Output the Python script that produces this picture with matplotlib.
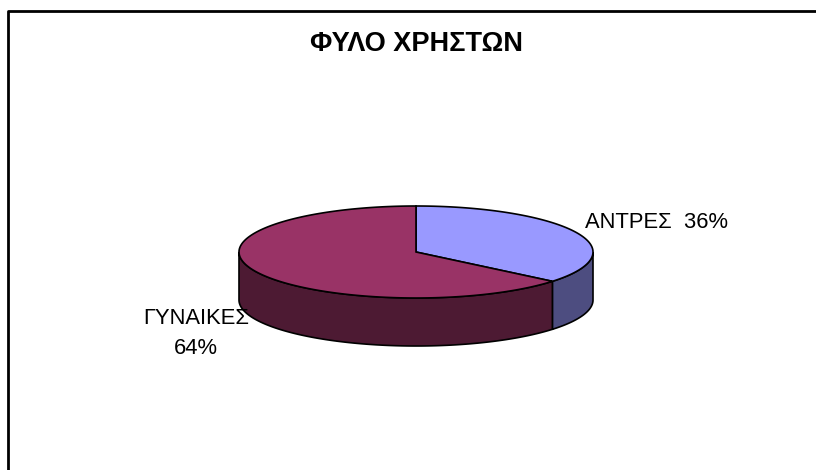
import numpy as np
import matplotlib
matplotlib.use("Agg")
import matplotlib.pyplot as plt
from matplotlib.patches import Polygon

plt.rcParams["font.family"] = ["Liberation Sans", "DejaVu Sans"]

TITLE = "ΦΥΛΟ ΧΡΗΣΤΩΝ"
LABELS = ["ΑΝΤΡΕΣ", "ΓΥΝΑΙΚΕΣ"]
VALUES = [36, 64]
TOP_COLORS = ["#9999ff", "#993366"]
SIDE_COLORS = ["#4d4d80", "#4d1a33"]

# pie geometry in pixel units
CX, CY = 416, 252
A, B = 177, 46
DEPTH = 48


def ellipse_pts(t0, t1, n=200):
    t = np.linspace(t0, t1, n)
    return CX + A * np.cos(t), CY - B * np.sin(t)


def main():
    fig = plt.figure(figsize=(8.16, 4.70), dpi=100)
    ax = fig.add_axes([0, 0, 1, 1])
    ax.set_xlim(0, 816)
    ax.set_ylim(470, 0)
    ax.axis("off")

    # chart frame, cut off on the right and bottom
    ax.plot([8, 8, 830], [480, 10.5, 10.5], color="black", lw=2, zorder=1)

    total = sum(VALUES)
    start = np.pi / 2
    slices = []
    for value in VALUES:
        end = start - 2 * np.pi * value / total
        slices.append((end, start))
        start = end

    # side walls on the front half
    for (t0, t1), color in zip(slices, SIDE_COLORS):
        lo, hi = t0 % (2 * np.pi), t0 % (2 * np.pi) + (t1 - t0)
        a0 = max(lo, np.pi)
        a1 = min(hi, 2 * np.pi)
        if a1 <= a0:
            continue
        x, y = ellipse_pts(a0, a1)
        xs = np.concatenate([x, x[::-1]])
        ys = np.concatenate([y, y[::-1] + DEPTH])
        ax.add_patch(Polygon(np.column_stack([xs, ys]), closed=True,
                             facecolor=color, edgecolor="black", lw=1.2,
                             zorder=2))

    # top faces
    for (t0, t1), color in zip(slices, TOP_COLORS):
        x, y = ellipse_pts(t0, t1)
        xs = np.concatenate([[CX], x])
        ys = np.concatenate([[CY], y])
        ax.add_patch(Polygon(np.column_stack([xs, ys]), closed=True,
                             facecolor=color, edgecolor="black", lw=1.2,
                             zorder=3))

    ax.text(417, 44, TITLE, ha="center", va="center", fontsize=19.5,
            fontweight="bold", zorder=4)
    ax.text(585, 223, f"{LABELS[0]}  {VALUES[0]}%", ha="left",
            va="center", fontsize=15.8, zorder=4)
    ax.text(196, 318, f"{LABELS[1]}", ha="center", va="center",
            fontsize=15.8, zorder=4)
    ax.text(196, 348, f"{VALUES[1]}%", ha="center", va="center",
            fontsize=15.8, zorder=4)

    fig.savefig("out.png", dpi=100)
    plt.close(fig)


if __name__ == "__main__":
    main()
